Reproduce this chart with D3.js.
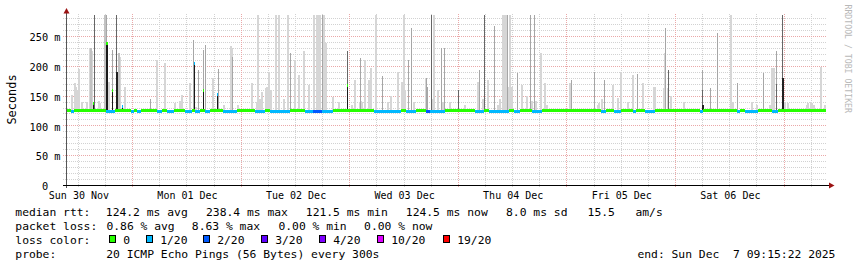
<!DOCTYPE html>
<html>
<head>
<meta charset="utf-8">
<script src="https://cdn.jsdelivr.net/npm/d3@7"></script>
<style>
  body { margin: 0; background: #fff; }
  svg text { font-family: "DejaVu Sans Mono", monospace; }
</style>
</head>
<body>
<svg id="chart" width="857" height="267"></svg>
<script>
// time window of the graph (one week, UTC)
const startTime = Date.UTC(2025, 10, 30, 9, 15, 22);
const endTime = Date.UTC(2025, 11, 7, 9, 15, 22);

// smoke: hours after start, highest ping (ms), shade 1 light .. 5 black
const spikeHour = [1.3,1.9,2.1,2.4,2.7,3.5,4.6,5.3,5.5,5.7,6.4,7.2,7.5,8.5,9.0,9.5,10.2,11.2,11.2,11.7,11.9,13.0,
  18.7,20.1,21.7,23.9,25.0,25.6,27.2,28.2,28.7,29.4,30.4,30.9,32.3,33.6,34.9,36.3,36.5,36.9,37.8,
  40.9,42.0,42.4,42.7,43.3,44.0,44.4,44.7,45.1,46.2,46.9,48.0,48.9,49.6,50.4,50.6,51.5,52.4,52.6,53.5,
  54.6,54.8,55.3,55.5,55.7,56.1,56.7,57.0,57.3,59.0,60.3,62.3,63.0,63.7,64.8,65.0,65.2,65.4,65.9,
  66.8,67.0,67.2,67.4,68.5,69.9,71.0,71.8,73.3,74.1,74.5,74.7,74.9,75.8,76.3,76.9,79.4,79.8,80.0,
  80.8,81.1,81.3,82.2,82.9,83.3,83.7,84.7,86.8,88.0,90.9,91.1,91.4,92.0,92.6,93.1,94.7,95.3,95.9,
  96.5,96.9,97.2,97.4,97.6,97.9,98.1,98.4,99.9,100.6,101.7,102.6,103.0,103.5,103.7,104.8,105.8,106.3,
  111.3,111.7,116.8,117.4,117.8,118.3,119.1,120.9,121.8,122.6,124.2,125.2,126.4,127.5,129.8,130.0,
  132.0,132.2,132.4,132.6,132.9,133.1,133.7,136.4,140.7,140.7,140.7,142.5,144.1,146.8,147.4,148.5,
  151.6,152.7,154.1,155.6,156.0,156.4,157.0,157.0,158.4,158.4,158.9,159.4,163.6,164.0,164.5,164.9,
  165.3,166.7,167.7];
const spikeTop = [152,172,165,160,195,140,140,230,230,225,286,142,138,286,286,174,227,286,191,222,215,165,
  145,211,205,138,142,152,172,244,132,194,227,235,180,195,135,234,230,216,135,
  172,140,286,145,157,163,165,191,160,286,286,145,286,222,160,211,185,224,225,168,
  286,286,286,286,239,286,286,286,239,149,140,225,135,177,140,142,214,140,211,
  177,170,197,175,286,184,140,150,191,174,160,286,160,211,264,140,180,180,166,
  286,145,286,160,230,140,231,140,160,135,174,174,194,145,286,177,267,135,145,
  286,286,286,286,286,165,286,165,189,168,150,286,142,286,142,222,172,135,
  172,177,191,135,138,145,177,168,147,191,140,185,187,172,166,166,
  163,163,222,264,163,194,150,140,194,160,135,163,256,286,140,172,
  140,135,189,135,197,197,225,170,286,180,140,138,135,138,140,138,
  135,199,135];
const spikeShade = [1,1,1,1,1,1,1,1,2,1,4,1,1,2,3,1,3,4,5,2,1,1,
  3,1,1,1,1,1,1,3,1,3,3,3,1,3,1,1,1,3,1,
  1,1,1,1,1,1,1,1,1,1,1,1,1,3,1,1,1,1,1,1,
  1,1,1,1,1,1,3,1,1,1,1,4,1,1,1,1,3,1,1,
  1,1,1,1,1,3,1,1,1,1,1,1,1,3,3,1,1,3,3,
  4,1,1,1,3,1,3,1,4,1,1,1,3,1,4,1,3,1,1,
  1,1,1,1,3,1,1,1,3,1,1,3,1,3,1,1,1,1,
  1,3,3,1,1,1,3,1,1,1,1,1,3,1,1,1,
  1,1,1,3,1,4,1,1,3,4,5,3,3,1,1,3,
  1,1,3,1,1,1,3,4,4,5,1,1,1,1,1,1,
  1,1,1];

// median rtt: segment start (hours), median (ms), loss colour index
const medHour = [0,1.1,1.7,8.8,10.8,14.4,15.0,15.7,16.6,20.1,21.2,22.3,23.9,26.3,27.9,28.5,29.6,30.7,31.8,34.7,
  37.8,41.8,44.0,45.1,49.5,52.8,54.6,56.6,59.0,68.1,74.1,75.2,77.4,79.6,80.5,83.8,90.4,92.4,93.5,97.9,
  99.0,100.4,103.0,105.2,118.3,119.4,121.1,122.7,125.3,126.0,128.0,130.2,140.1,140.8,148.3,149.0,150.1,153.0,156.1,157.4];
const medMs = [125.8,124.2,125.8,124.2,125.8,124.2,125.8,124.2,125.8,124.2,125.8,124.2,125.8,124.2,125.8,124.2,125.8,124.2,125.8,124.2,
  125.8,124.2,125.8,124.2,125.8,124.2,123.9,124.2,125.8,124.2,125.8,124.2,125.8,123.9,124.2,125.8,124.2,125.8,124.2,125.8,
  124.2,125.8,124.2,125.8,124.2,125.8,124.2,125.8,124.2,125.8,124.2,125.8,124.2,125.8,124.2,125.8,124.2,125.8,124.2,125.8];
const medLoss = [0,1,0,1,0,1,0,1,0,1,0,1,0,1,0,1,0,1,0,1,
  0,1,0,1,0,1,2,1,0,1,0,1,0,2,1,0,1,0,1,0,
  1,0,1,0,1,0,1,0,1,0,1,0,1,0,1,0,1,0,1,0];

// isolated samples where the median itself jumped up
const jumpHour = [6.0, 9.0, 9.2, 10.3, 12.4, 28.3, 30.3, 33.5, 62.3];
const jumpMs = [138, 238.4, 238.4, 160, 133, 204, 160, 152, 168];
const jumpLoss = [0, 0, 0, 0, 1, 1, 0, 1, 0];

// legend
const lossLabels = ['0', '1/20', '2/20', '3/20', '4/20', '10/20', '19/20'];
const lossColors = ['#26ff00', '#00b8ff', '#0059ff', '#5e00ff', '#7e00ff', '#dd00ff', '#ff0000'];
const rttStats = ['124.2 ms avg', '238.4 ms max', '121.5 ms min', '124.5 ms now', '8.0 ms sd', '15.5   am/s'];
const lossStats = ['0.86 % avg', '8.63 % max', '0.00 % min', '0.00 % now'];
const probeText = '20 ICMP Echo Pings (56 Bytes) every 300s';
const endText = 'end: Sun Dec  7 09:15:22 2025';

const shadeColors = [null, '#d6d6d6', '#c2c2c2', '#a6a6a6', '#666666', '#222222'];
const shadeWidth = [0, 2, 2, 1, 1, 2];

const svg = d3.select('#chart');
svg.append('rect').attr('width', 857).attr('height', 267).attr('fill', '#fff');

const pLeft = 66, pRight = 826, pTop = 13.5, pBottom = 185.5;
const x = d3.scaleUtc().domain([startTime, endTime]).range([pLeft, pRight]);
const y = d3.scaleLinear().domain([0, 288.6]).range([pBottom, pTop]);
const at = h => new Date(startTime + h * 3600e3);
const px = v => Math.floor(v) + 0.5;

// grid
const grid = svg.append('g').attr('stroke-width', 1).attr('stroke-dasharray', '1,1');
const minorY = d3.range(10, 289, 10).filter(v => v % 50 !== 0);
const majorY = d3.range(50, 289, 50);
const minorX = d3.utcHour.every(6).range(new Date(startTime), new Date(endTime)).filter(d => d.getUTCHours() !== 0);
const majorX = d3.utcDay.range(new Date(startTime), new Date(endTime));

grid.selectAll('.hmin').data(minorY).join('line')
  .attr('x1', 63).attr('x2', pRight).attr('y1', d => px(y(d))).attr('y2', d => px(y(d)))
  .attr('stroke', '#d2d2d2');
grid.selectAll('.vmin').data(minorX).join('line')
  .attr('x1', d => px(x(d))).attr('x2', d => px(x(d))).attr('y1', 14).attr('y2', 188)
  .attr('stroke', '#d2d2d2');
grid.selectAll('.hmaj').data(majorY).join('line')
  .attr('x1', 63).attr('x2', pRight).attr('y1', d => px(y(d))).attr('y2', d => px(y(d)))
  .attr('stroke', '#eaa8a8');
grid.selectAll('.vmaj').data(majorX).join('line')
  .attr('x1', d => px(x(d))).attr('x2', d => px(x(d))).attr('y1', 14).attr('y2', 188)
  .attr('stroke', '#eaa8a8');

// smoke
const spikes = spikeHour.map((h, i) => ({ t: at(h), hi: spikeTop[i], shade: spikeShade[i] }))
  .sort((a, b) => a.shade - b.shade);
svg.append('g').attr('shape-rendering', 'crispEdges')
  .selectAll('rect').data(spikes).join('rect')
  .attr('x', d => Math.floor(x(d.t)))
  .attr('width', d => shadeWidth[d.shade])
  .attr('y', d => y(d.hi))
  .attr('height', d => y(123) - y(d.hi))
  .attr('fill', d => shadeColors[d.shade]);

// dark columns under the median jumps
const jumps = jumpHour.map((h, i) => ({ t: at(h), ms: jumpMs[i], loss: jumpLoss[i] }));
svg.append('g').attr('shape-rendering', 'crispEdges')
  .selectAll('rect').data(jumps).join('rect')
  .attr('x', d => Math.floor(x(d.t)))
  .attr('width', 1)
  .attr('y', d => y(d.ms))
  .attr('height', d => y(124) - y(d.ms))
  .attr('fill', '#1a1a1a');

// median band coloured by loss
const segs = medHour.map((h, i) => ({
  t0: at(h), t1: at(i < medHour.length - 1 ? medHour[i + 1] : 168), ms: medMs[i], loss: medLoss[i]
}));
svg.append('g').attr('shape-rendering', 'crispEdges')
  .selectAll('rect').data(segs).join('rect')
  .attr('x', d => x(d.t0))
  .attr('width', d => x(d.t1) - x(d.t0))
  .attr('y', d => y(d.ms) - 1.5)
  .attr('height', 3)
  .attr('fill', d => lossColors[d.loss]);

svg.append('g').attr('shape-rendering', 'crispEdges')
  .selectAll('rect').data(jumps).join('rect')
  .attr('x', d => Math.floor(x(d.t)))
  .attr('width', 1)
  .attr('y', d => y(d.ms) - 1.5)
  .attr('height', 3)
  .attr('fill', d => lossColors[d.loss]);

// axes
const yAxis = svg.append('g').attr('transform', 'translate(66.5,0)')
  .call(d3.axisLeft(y).tickValues([0, 50, 100, 150, 200, 250])
    .tickFormat(d => d === 0 ? '0' : d + ' m')
    .tickSize(0).tickPadding(6));
yAxis.select('.domain').remove();
yAxis.selectAll('text').attr('font-family', '"DejaVu Sans Mono", monospace')
  .attr('font-size', 10.3).attr('fill', '#000').attr('dy', '0.4em')
  .attr('dx', d => d === 0 ? -12.4 : 0);

const noons = majorX.map(d => new Date(+d - 12 * 3600e3)).concat([new Date(+majorX[majorX.length - 1] + 12 * 3600e3)])
  .filter(d => +d > startTime && +d < endTime);
const xAxis = svg.append('g').attr('transform', `translate(0,${pBottom})`)
  .call(d3.axisBottom(x).tickValues(noons).tickFormat(d3.utcFormat('%a %d %b')).tickSize(0).tickPadding(6.3));
xAxis.select('.domain').remove();
xAxis.selectAll('text').attr('font-family', '"DejaVu Sans Mono", monospace')
  .attr('font-size', 10).attr('fill', '#000');

svg.append('line').attr('x1', 66.5).attr('x2', 66.5).attr('y1', 188).attr('y2', 12)
  .attr('stroke', '#555');
svg.append('line').attr('x1', 63).attr('x2', 829).attr('y1', pBottom).attr('y2', pBottom)
  .attr('stroke', '#000');
svg.append('path').attr('d', 'M63.5,13.5 L69.5,13.5 L66.5,8 Z').attr('fill', '#9b1212');
svg.append('path').attr('d', 'M829,182.5 L829,188.5 L834.5,185.5 Z').attr('fill', '#9b1212');

// titles
svg.append('text').attr('transform', 'translate(15.5,99.5) rotate(-90)')
  .attr('text-anchor', 'middle').attr('font-size', 11.9).text('Seconds');
svg.append('text').attr('transform', 'translate(845,4.5) rotate(90)')
  .attr('font-size', 8.2).attr('fill', '#b8b8b8').text('RRDTOOL / TOBI OETIKER');

// legend
const legend = svg.append('g').attr('font-size', 11.35).attr('fill', '#000');
const put = (xx, yy, t) => legend.append('text').attr('x', xx).attr('y', yy).style('white-space', 'pre').text(t);

put(15.3, 216, 'median rtt:');
[105.8, 206, 305.8, 405.8, 506, 587.6].forEach((xx, i) => put(xx, 216, rttStats[i]));
put(15.3, 230, 'packet loss:');
[106.4, 191.8, 278.4, 364.1].forEach((xx, i) => put(xx, 230, lossStats[i]));
put(15.3, 244, 'loss color:');
const boxX = [109, 146, 203, 261, 319, 377, 443];
legend.selectAll('rect').data(lossColors).join('rect')
  .attr('x', (d, i) => boxX[i] + 0.5).attr('y', 235.5).attr('width', 6).attr('height', 7)
  .attr('fill', d => d).attr('stroke', '#000');
lossLabels.forEach((t, i) => put(boxX[i] + 14.2, 244, t));
put(15.3, 258, 'probe:');
put(106.2, 258, probeText);
put(637.4, 258, endText);
</script>
</body>
</html>
